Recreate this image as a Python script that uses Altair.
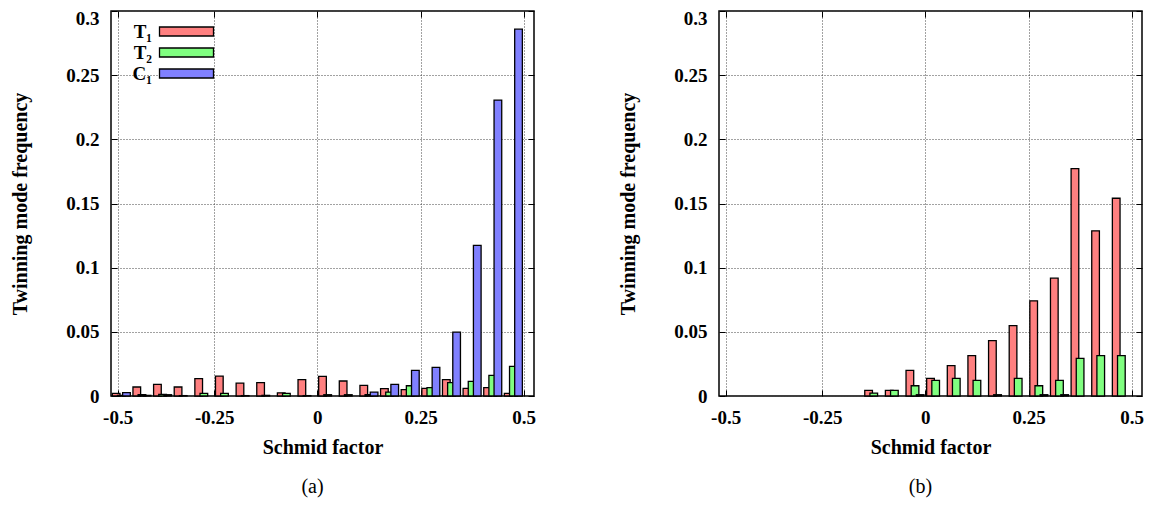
import json
import altair as alt
import pandas as pd

# Bin centres of the Schmid-factor histogram
bins = [-0.475, -0.425, -0.375, -0.325, -0.275, -0.225, -0.175, -0.125, -0.075, -0.025,
        0.025, 0.075, 0.125, 0.175, 0.225, 0.275, 0.325, 0.375, 0.425, 0.475]
series = ["T₁", "T₂", "C₁"]

# Panel (a)
a_T1 = [0.002, 0.007, 0.009, 0.007, 0.0135, 0.0155, 0.010, 0.0105, 0.0025, 0.0128,
        0.0153, 0.0117, 0.0083, 0.0057, 0.005, 0.006, 0.0127, 0.006, 0.0065, 0.002]
a_T2 = [0.0005, 0.001, 0.0013, 0.0003, 0.002, 0.002, 0.0003, 0.0005, 0.002, 0.0003,
        0.001, 0.001, 0.001, 0.003, 0.008, 0.0065, 0.0104, 0.0114, 0.016, 0.0231]
a_C1 = [0.0027, 0.0005, 0.001, 0.0, 0.0, 0.0, 0.0, 0.0, 0.0, 0.0,
        0.0, 0.0, 0.003, 0.009, 0.020, 0.0223, 0.0498, 0.1173, 0.2306, 0.2858]

# Panel (b)
b_T1 = [0.0, 0.0, 0.0, 0.0, 0.0, 0.0, 0.0, 0.0044, 0.0044, 0.020,
        0.0138, 0.0236, 0.0314, 0.0431, 0.0548, 0.0742, 0.0918, 0.1772, 0.1287, 0.1541]
b_T2 = [0.0, 0.0, 0.0, 0.0, 0.0, 0.0, 0.0, 0.0023, 0.0044, 0.008,
        0.0122, 0.0138, 0.0122, 0.001, 0.0138, 0.008, 0.0122, 0.0293, 0.0314, 0.0314]
b_C1 = [0.0, 0.0, 0.0, 0.0, 0.0, 0.0, 0.0, 0.0, 0.0, 0.001,
        0.0, 0.0, 0.0, 0.0, 0.0, 0.001, 0.001, 0.0, 0.0, 0.0]

x_ticks = [-0.484, -0.25, 0, 0.25, 0.5]
y_ticks = [0, 0.05, 0.1, 0.15, 0.2, 0.25, 0.3]

fills = ["#ff8080", "#80ff80", "#8080ff"]
dashes = [[1, 0], [5, 3], [2, 2]]
FONT = "Liberation Serif"
W, H = 423, 385


def make_df(t1, t2, c1):
    rows = []
    for s, vals in zip(series, [t1, t2, c1]):
        for b, v in zip(bins, vals):
            rows.append({"bin": b, "series": s, "value": v})
    return pd.DataFrame(rows)


def x_scale():
    return alt.Scale(domain=[-0.5, 0.525], nice=False, zero=False)


def y_scale():
    return alt.Scale(domain=[0, 0.3], nice=False)


def legend():
    return alt.Legend(
        title=None, orient="none", legendX=66, legendY=11, padding=0,
        symbolType="M-6,-1H6V1H-6Z", symbolSize=81,
        symbolStrokeColor="black", symbolStrokeWidth=1.3, symbolOpacity=1,
        labelAlign="right", labelOffset={"expr": "-44"}, rowPadding=1,
        labelFont=FONT, labelFontWeight="bold", labelFontSize=19, labelColor="black",
    )


def tick_axis(orient, offset, values):
    return alt.Axis(orient=orient, offset=offset, values=values, labels=False,
                    ticks=True, tickSize=6, tickColor="black", tickWidth=1,
                    grid=False, domain=False, title=None)


def tick_layer(df, yorient, xorient):
    # invisible marks that only carry the inward-pointing mirror ticks of the frame
    return alt.Chart(df).mark_point(opacity=0).encode(
        x=alt.X("bin:Q", scale=x_scale(), axis=tick_axis(xorient, -H, x_ticks)),
        y=alt.Y("value:Q", scale=y_scale(), axis=tick_axis(yorient, -W, y_ticks)),
    )


def panel(df, caption):
    base = alt.Chart(df).transform_filter("datum.value > 0").transform_calculate(
        xc="datum.bin + (indexof(%s, datum.series) - 1) * 0.0125" % json.dumps(series, ensure_ascii=False)
    ).transform_calculate(
        x0="datum.xc - 0.0093", x1="datum.xc + 0.0093"
    )
    bars = base.mark_rect(stroke="black", strokeWidth=1.3).encode(
        x=alt.X("x0:Q", scale=x_scale(),
                axis=alt.Axis(orient="bottom", values=x_ticks, title="Schmid factor",
                              labelExpr="datum.value < -0.4 ? '-0.5' : '' + datum.value",
                              ticks=False, labelPadding=12, titlePadding=10)),
        x2="x1:Q",
        y=alt.Y("value:Q", scale=y_scale(),
                axis=alt.Axis(orient="left", values=y_ticks, title="Twinning mode frequency",
                              labelExpr="'' + datum.value",
                              labelBaseline={"condition": {"test": "datum.value > 0.29", "value": "top"},
                                             "value": "middle"},
                              labelOffset={"condition": {"test": "datum.value > 0.29", "value": -2},
                                           "value": 0},
                              ticks=False, labelPadding=12, titlePadding=35)),
        y2=alt.datum(0),
        fill=alt.Fill("series:N", scale=alt.Scale(domain=series, range=fills), legend=legend()),
        strokeDash=alt.StrokeDash("series:N", scale=alt.Scale(domain=series, range=dashes), legend=legend()),
    )
    return alt.layer(
        bars,
        tick_layer(df, "right", "top"),
        tick_layer(df, "left", "bottom"),
    ).resolve_scale(x="independent", y="independent").properties(
        width=W, height=H,
        title=alt.TitleParams(caption, orient="bottom", anchor="middle", dx=-10,
                              fontSize=20, font=FONT, fontWeight="normal", offset=20, color="black"),
    )


chart = alt.hconcat(
    panel(make_df(a_T1, a_T2, a_C1), "(a)"),
    panel(make_df(b_T1, b_T2, b_C1), "(b)"),
    spacing=81,
).properties(
    padding={"left": 2, "top": 0, "right": 2, "bottom": 0}
).configure_view(
    stroke="black", strokeWidth=1.5
).configure_axis(
    grid=True, gridColor="#444", gridDash=[1, 2], gridWidth=1, gridOpacity=1,
    domain=False,
    labelFont=FONT, labelFontWeight="bold", labelFontSize=19, labelColor="black",
    titleFont=FONT, titleFontWeight="bold", titleFontSize=20, titleColor="black",
)

chart.save("out.html", embed_options={"renderer": "svg", "actions": False})
